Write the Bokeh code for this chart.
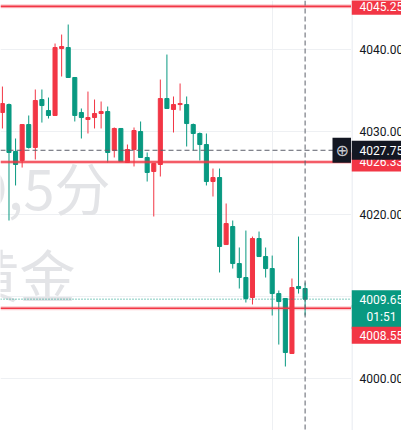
from bokeh.plotting import figure
from bokeh.layouts import row
from bokeh.models import Range1d, FixedTicker, Span, Label, ColumnDataSource
from bokeh.core.properties import value
from bokeh.embed import file_html
from bokeh.resources import INLINE

# ---- data ----
opens = [4032.34, 4033.31, 4027.60, 4026.50, 4030.88, 4028.09, 4033.92, 4032.58, 4031.98, 4040.12,
         4040.24, 4036.60, 4032.34, 4031.49, 4031.73, 4032.22, 4032.46, 4027.72, 4030.40, 4026.26,
         4027.84, 4030.03, 4026.87, 4025.17, 4026.02, 4034.04, 4032.71, 4033.31, 4033.31, 4030.88,
         4029.79, 4028.45, 4023.95, 4024.44, 4016.29, 4018.48, 4013.98, 4012.28, 4009.85, 4017.02,
         4014.83, 4013.37, 4010.33, 4009.73, 4003.04, 4011.19, 4010.94]
highs = [4035.50, 4033.43, 4029.18, 4030.88, 4031.98, 4035.14, 4035.14, 4034.16, 4040.73, 4041.82,
         4043.04, 4036.60, 4032.83, 4034.89, 4033.92, 4033.68, 4033.07, 4030.52, 4030.40, 4028.45,
         4030.52, 4031.25, 4027.48, 4026.14, 4036.35, 4039.39, 4034.29, 4035.87, 4034.29, 4031.00,
         4029.91, 4029.79, 4025.53, 4025.53, 4021.28, 4019.21, 4015.93, 4017.99, 4017.26, 4017.87,
         4015.93, 4014.95, 4010.70, 4009.73, 4012.16, 4017.26, 4011.67]
lows = [4030.40, 4019.21, 4023.47, 4025.65, 4027.96, 4026.63, 4031.12, 4031.61, 4031.98, 4036.72,
        4036.60, 4031.25, 4029.18, 4029.79, 4030.40, 4030.40, 4026.26, 4026.87, 4026.38, 4026.26,
        4025.78, 4026.87, 4023.95, 4019.70, 4024.56, 4032.83, 4029.91, 4032.58, 4028.21, 4027.72,
        4026.50, 4023.47, 4022.13, 4012.89, 4016.29, 4013.37, 4010.94, 4009.24, 4009.00, 4014.83,
        4012.28, 4007.66, 4004.13, 4001.46, 4003.04, 4010.33, 4007.66]
closes = [4033.43, 4027.48, 4026.02, 4030.88, 4028.09, 4033.80, 4033.19, 4031.98, 4040.24, 4040.36,
          4036.60, 4031.98, 4031.73, 4031.73, 4032.22, 4032.46, 4027.48, 4030.40, 4026.38, 4027.84,
          4030.15, 4026.87, 4025.05, 4026.14, 4034.04, 4032.83, 4033.31, 4033.43, 4031.00, 4029.79,
          4028.45, 4023.95, 4024.44, 4016.05, 4018.84, 4013.98, 4012.28, 4009.73, 4017.02, 4014.83,
          4013.37, 4010.33, 4009.36, 4003.16, 4011.06, 4010.94, 4009.65]

y_ticks = [4000, 4010, 4020, 4030, 4040]
y_tick_labels = ["4000.00", "4010.00", "4020.00", "4030.00", "4040.00"]
time_grid = [41]
level_prices = [4045.25, 4026.33, 4008.55]
crosshair_price = 4027.75
crosshair_bar = 46
last_price = 4009.65
countdown = "01:51"
watermark_lines = ["XAUUSD,5分", "现货黄金"]

UP = "#F23645"
DOWN = "#089981"
DARK = "#131722"
GRID = "#eef0f3"

idx = list(range(len(opens)))
colors = [UP if c >= o else DOWN for o, c in zip(opens, closes)]
src = ColumnDataSource(dict(
    x=idx, high=highs, low=lows,
    top=[max(o, c) for o, c in zip(opens, closes)],
    bottom=[min(o, c) for o, c in zip(opens, closes)],
    color=colors,
))

yr = Range1d(3993.68, 4045.96)

# ---------------- main pane ----------------
p = figure(frame_width=351, frame_height=430,
           x_range=Range1d(-0.29, 53.05), y_range=yr,
           output_backend="svg", toolbar_location=None,
           x_axis_location=None, y_axis_location=None,
           min_border_left=0, min_border_top=0, min_border_bottom=0, min_border_right=0,
           outline_line_color=None, background_fill_color="white")

p.ygrid.ticker = FixedTicker(ticks=y_ticks)
p.ygrid.grid_line_color = GRID
p.xgrid.ticker = FixedTicker(ticks=time_grid)
p.xgrid.grid_line_color = GRID

# watermark
wm_font = "Noto Sans CJK SC"
p.add_layout(Label(x=110, x_units="screen", y=4023.47, y_units="data", text=watermark_lines[0],
                   text_align="right", text_baseline="middle", text_font=wm_font,
                   text_font_size="56px", text_color="#e3e4e7", level="underlay"))
p.add_layout(Label(x=75, x_units="screen", y=4012.89, y_units="data", text=watermark_lines[1],
                   text_align="right", text_baseline="middle", text_font=wm_font,
                   text_font_size="56px", text_color="#e3e4e7", level="underlay"))

# candles
p.segment(x0="x", y0="high", x1="x", y1="low", line_color="color", line_width=1, source=src)
p.vbar(x="x", width=0.62, top="top", bottom="bottom", fill_color="color",
       line_color="color", line_width=1, source=src)

# horizontal levels
for lp in level_prices:
    p.add_layout(Span(location=lp, dimension="width", line_color=UP, line_width=4, line_alpha=0.25))
    p.add_layout(Span(location=lp, dimension="width", line_color=UP, line_width=1.6))

# last price dotted line
p.add_layout(Span(location=last_price, dimension="width", line_color=DOWN, line_width=1,
                  line_dash="1 2"))

# crosshair
p.add_layout(Span(location=crosshair_price, dimension="width", line_color="#5d606b",
                  line_width=1, line_dash="5 3"))
p.add_layout(Span(location=crosshair_bar, dimension="height", line_color="#5d606b",
                  line_width=1, line_dash="5 3"))

# crosshair icon  (padding = left, right, top, bottom)
p.add_layout(Label(x=332, x_units="screen", y=crosshair_price, y_units="data",
                   text="⊕", text_align="left", text_baseline="middle",
                   text_font="DejaVu Sans", text_font_size="16px", text_color="#c4c6cd",
                   background_fill_color=DARK, padding=(3, 3, 3, 3)))

# ---------------- price scale ----------------
ps = figure(frame_width=50, frame_height=430,
            x_range=Range1d(0, 50), y_range=yr,
            output_backend="svg", toolbar_location=None,
            x_axis_location=None, y_axis_location=None,
            min_border_left=0, min_border_top=0, min_border_bottom=0, min_border_right=0,
            outline_line_color=None, background_fill_color="white")
ps.xgrid.visible = False
ps.ygrid.visible = False
ps.add_layout(Span(location=0.5, dimension="height", line_color="#e0e3eb", line_width=1))
ps.text(x=8, y=y_ticks, text=y_tick_labels, text_baseline="middle", text_align="left",
        text_font=value("Roboto"), text_font_size="12px", text_color=DARK)


def price_tag(price, text, bg, y_offset=0, pad=(8, 20, 5, 4)):
    ps.add_layout(Label(x=0, x_units="screen", y=price, y_units="data", y_offset=y_offset,
                        text=text, text_align="left", text_baseline="middle",
                        text_font="Roboto", text_font_size="12px", text_color="white",
                        background_fill_color=bg, padding=pad))


price_tag(level_prices[0], f"{level_prices[0]:.2f}", UP, pad=(8, 20, 4, 4))
price_tag(level_prices[1], f"{level_prices[1]:.2f}", UP, pad=(8, 20, 5, 5))
price_tag(crosshair_price, f"{crosshair_price:.2f}", DARK, pad=(8, 20, 5, 5))
price_tag(last_price, f"{last_price:.2f}", DOWN)
price_tag(last_price, countdown, DOWN, y_offset=-18, pad=(15, 25, 5, 5))
price_tag(level_prices[2], f"{level_prices[2]:.2f}", UP, y_offset=-27, pad=(8, 20, 4, 4))

layout = row(p, ps, spacing=0)
open("out.html", "w").write(file_html(layout, INLINE))
